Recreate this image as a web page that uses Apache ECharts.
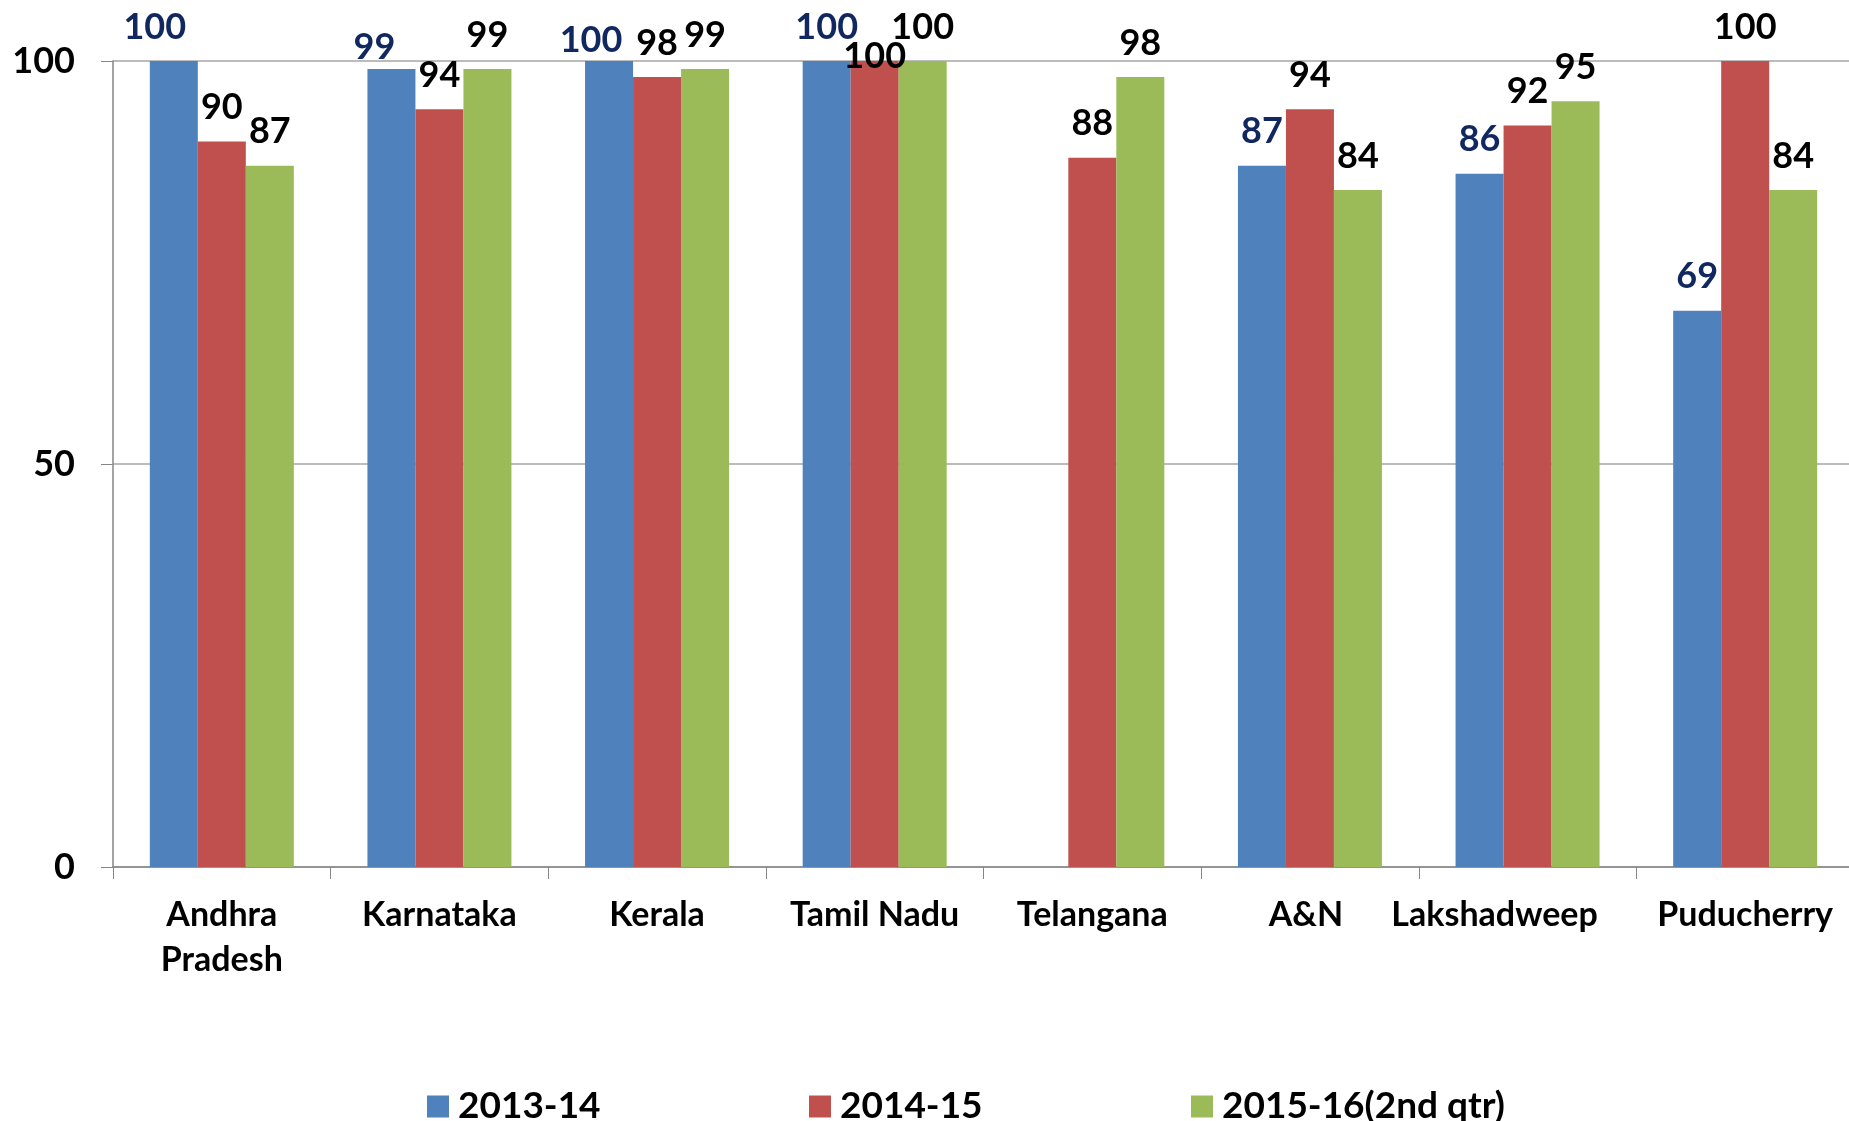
<!DOCTYPE html>
<html>
<head>
<meta charset="utf-8">
<script src="https://cdn.jsdelivr.net/npm/echarts@6/dist/echarts.min.js"></script>
<style>
  html, body { margin: 0; padding: 0; background: #fff; overflow: hidden; }
  #chart { width: 1860px; height: 1121px; }
</style>
</head>
<body>
<div id="chart"></div>
<script>
const categories = ["Andhra\nPradesh", "Karnataka", "Kerala", "Tamil Nadu", "Telangana", "A&N", "Lakshadweep", "Puducherry"];
const seriesNames = ["2013-14", "2014-15", "2015-16(2nd qtr)"];
const values1314 = [100, 99, 100, 100, null, 87, 86, 69];
const values1415 = [90, 94, 98, 100, 88, 94, 92, 100];
const values1516 = [87, 99, 99, 100, 98, 84, 95, 84];
const yTicks = [0, 50, 100];

const colors = ["#4F81BD", "#C0504D", "#9BBB59"];
const labelColors = ["#10275F", "#000", "#000"];
const FONT = "Lato";

// a few labels were dragged by hand in the original, nudge them the same way
const labelNudge = {
  0: { 0: [-19, 0], 1: [-17, 12], 2: [-18, 13] },
  1: { 3: [0, 29] }
};
// category labels squeezed off-centre in the original (right padding, px)
const catPadRight = { 5: 8, 6: 66 };

function buildData(vals, si) {
  return vals.map(function (v, ci) {
    const n = labelNudge[si] && labelNudge[si][ci];
    if (v === null) return "-";
    return n ? { value: v, label: { offset: n } } : v;
  });
}

const chart = echarts.init(document.getElementById("chart"));

const allValues = [values1314, values1415, values1516];
const legendLefts = [427, 809, 1191];

const option = {
  animation: false,
  grid: { left: 113, top: 61, bottom: 254, width: 1741 },
  legend: seriesNames.map(function (name, i) {
    return {
      data: [name],
      left: legendLefts[i],
      top: 1088,
      padding: 0,
      icon: "rect",
      itemWidth: 22,
      itemHeight: 22,
      textStyle: { fontFamily: FONT, fontWeight: "bold", fontSize: 37, color: "#000", padding: [0, 0, 0, 4] }
    };
  }),
  xAxis: {
    type: "category",
    data: categories.map(function (c, i) {
      return catPadRight[i] ? { value: c, textStyle: { padding: [0, catPadRight[i], 0, 0] } } : c;
    }),
    axisLine: { lineStyle: { color: "#868686", width: 1.5 } },
    axisTick: { show: true, length: 12, lineStyle: { color: "#868686" } },
    axisLabel: {
      interval: 0,
      margin: 26,
      fontFamily: FONT,
      fontWeight: "bold",
      fontSize: 34,
      lineHeight: 45,
      color: "#000"
    }
  },
  yAxis: {
    type: "value",
    min: yTicks[0],
    max: yTicks[yTicks.length - 1],
    interval: yTicks[1] - yTicks[0],
    axisLine: { show: true, lineStyle: { color: "#868686", width: 1.5 } },
    axisTick: { show: true, length: 12, lineStyle: { color: "#868686" } },
    splitLine: { lineStyle: { color: "#A6A6A6", width: 1.5 } },
    axisLabel: {
      margin: 38,
      fontFamily: FONT,
      fontWeight: "bold",
      fontSize: 36,
      color: "#000"
    }
  },
  series: allValues.map(function (vals, si) {
    return {
      name: seriesNames[si],
      type: "bar",
      barWidth: 48,
      barGap: "0%",
      itemStyle: { color: colors[si] },
      label: {
        show: true,
        position: "top",
        distance: 14,
        fontFamily: FONT,
        fontWeight: "bold",
        fontSize: 36,
        lineHeight: 40,
        color: labelColors[si]
      },
      data: buildData(vals, si)
    };
  })
};

chart.setOption(option);
</script>
</body>
</html>
